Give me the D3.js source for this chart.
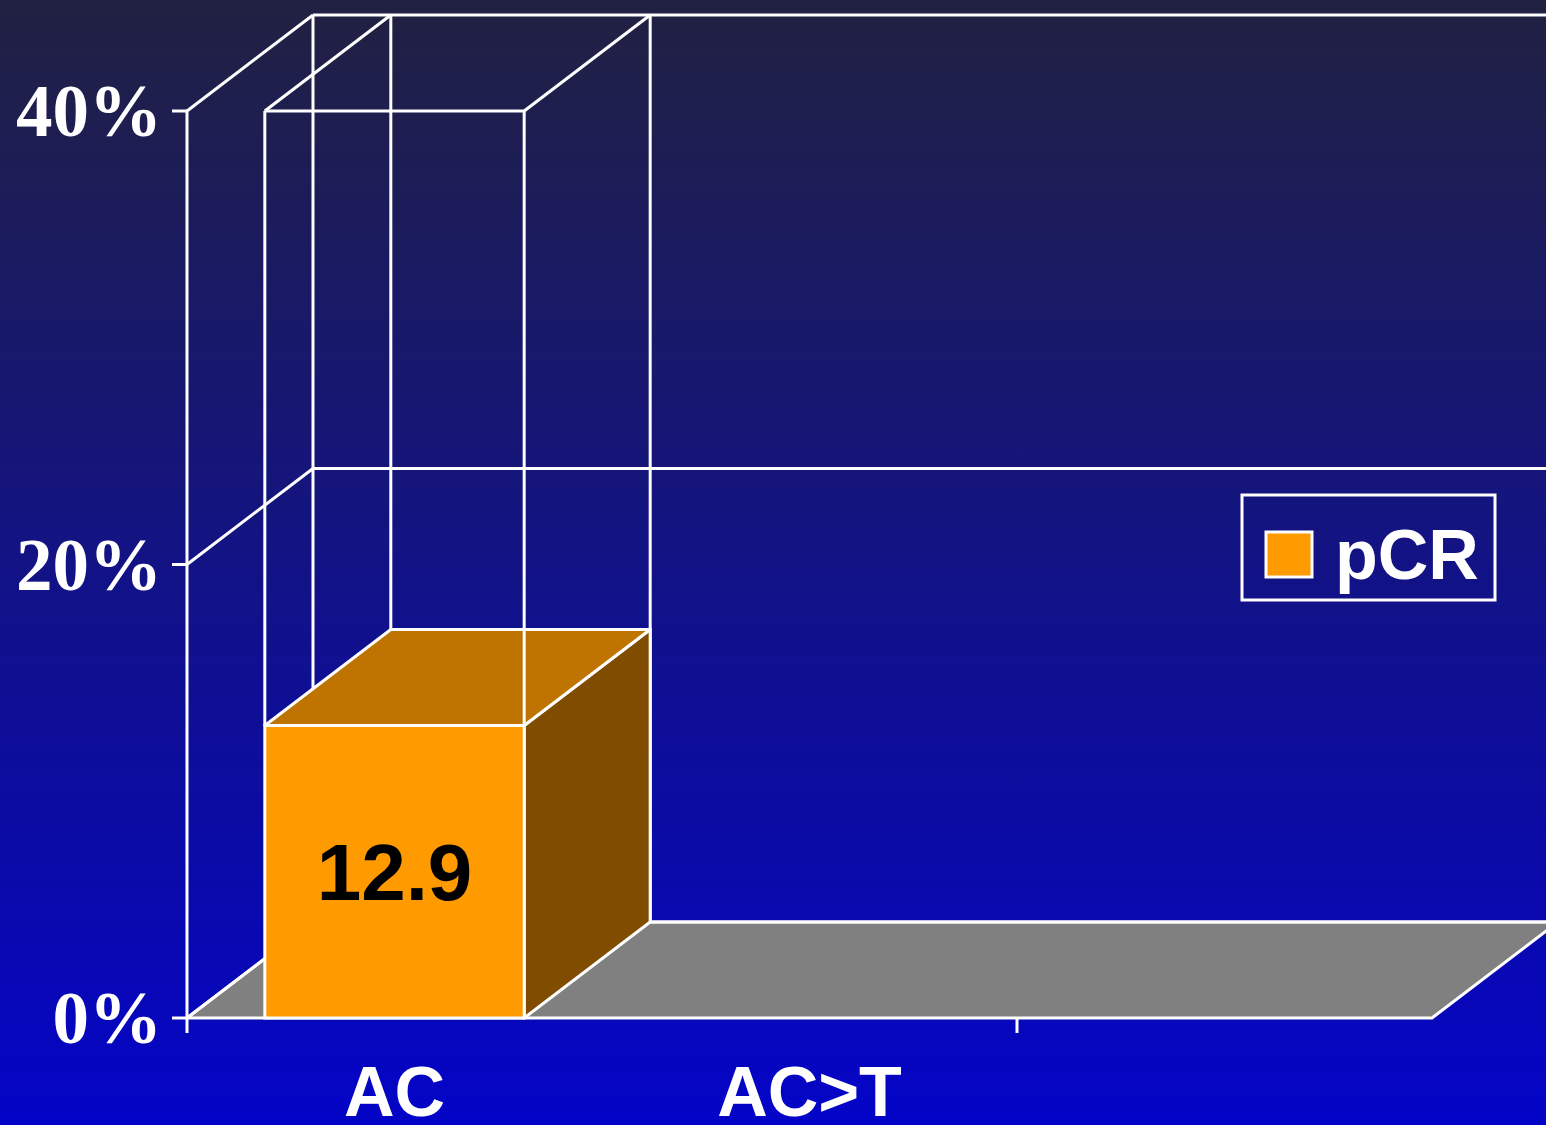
<!DOCTYPE html>
<html>
<head>
<meta charset="utf-8">
<script src="https://cdn.jsdelivr.net/npm/d3@7"></script>
<style>
  html, body { margin: 0; padding: 0; overflow: hidden; }
  svg { display: block; }
</style>
</head>
<body>
<svg width="1546" height="1125" viewBox="0 0 1546 1125"></svg>
<script>
// data
const categories = ["AC", "AC>T", ""];
const pcrValues = [12.9, null, null];
const seriesName = "pCR";
const yTicks = [0, 20, 40];

let svg = d3.select('svg');

// gradient background
let defs = svg.append('defs');
let grad = defs.append('linearGradient').attr('id', 'bg')
  .attr('x1', 0).attr('y1', 0).attr('x2', 0).attr('y2', 1);
grad.append('stop').attr('offset', '0%').attr('stop-color', '#212142');
grad.append('stop').attr('offset', '100%').attr('stop-color', '#0404c8');
svg.append('rect').attr('width', 1546).attr('height', 1125).attr('fill', 'url(#bg)');

// scales
let xScale = d3.scaleBand().domain(categories).range([187, 1432]).padding(0);
let yScale = d3.scaleLinear().domain([0, 40]).range([1018, 111]);
// 3d depth offset
const dx = 126, dy = -96;
const barFrac = 0.625;

const x0 = xScale.range()[0], x1 = xScale.range()[1];
const yBase = yScale(0), yTop = yScale(40);
const white = '#ffffff', lw = 3;

function line(g, a, b, c, d) {
  g.append('line').attr('x1', a).attr('y1', b).attr('x2', c).attr('y2', d)
    .attr('stroke', white).attr('stroke-width', lw);
}

// floor
let grid = svg.append('g');
grid.append('polygon')
  .attr('points', [[x0, yBase], [x1, yBase], [x1 + dx, yBase + dy], [x0 + dx, yBase + dy]].join(' '))
  .attr('fill', '#808080').attr('stroke', white).attr('stroke-width', lw)
  .attr('stroke-linejoin', 'round');

// back wall + left wall gridlines
yTicks.forEach(function (t) {
  let y = yScale(t);
  line(grid, x0 + dx, y + dy, x1 + dx, y + dy);
  line(grid, x0, y, x0 + dx, y + dy);
});
line(grid, x0 + dx, yTop + dy, x0 + dx, yBase + dy);
line(grid, x0, yTop, x0, yBase);

// y ticks and labels
yTicks.forEach(function (t) {
  let y = yScale(t);
  line(grid, x0 - 15, y, x0, y);
  grid.append('text').attr('x', 162).attr('y', y + 25)
    .attr('text-anchor', 'end')
    .attr('font-family', '"Liberation Serif", "Times New Roman", serif')
    .attr('font-weight', 'bold').attr('font-size', 73).attr('fill', white)
    .text(t + '%');
});

// x ticks (every second band)
categories.forEach(function (c, i) {
  if (i % 2 === 0) line(grid, xScale(c), yBase, xScale(c), yBase + 15);
});

// bars
let bars = svg.append('g');
categories.forEach(function (c, i) {
  let v = pcrValues[i];
  if (v === null) return;
  let bw = xScale.bandwidth() * barFrac;
  let bl = xScale(c) + (xScale.bandwidth() - bw) / 2;
  let br = bl + bw;
  let yv = yScale(v);

  // wireframe behind the bar (up to axis max)
  line(bars, bl + dx, yTop + dy, bl + dx, yv + dy);
  line(bars, br + dx, yTop + dy, br + dx, yBase + dy);
  line(bars, bl, yTop, bl + dx, yTop + dy);
  line(bars, br, yTop, br + dx, yTop + dy);
  line(bars, bl, yTop, br, yTop);

  // side face
  bars.append('polygon')
    .attr('points', [[br, yv], [br + dx, yv + dy], [br + dx, yBase + dy], [br, yBase]].join(' '))
    .attr('fill', '#7f4c00').attr('stroke', white).attr('stroke-width', lw)
    .attr('stroke-linejoin', 'round');
  // top face
  bars.append('polygon')
    .attr('points', [[bl, yv], [bl + dx, yv + dy], [br + dx, yv + dy], [br, yv]].join(' '))
    .attr('fill', '#bf7300').attr('stroke', white).attr('stroke-width', lw)
    .attr('stroke-linejoin', 'round');
  // front face
  bars.append('rect').attr('x', bl).attr('y', yv).attr('width', bw).attr('height', yBase - yv)
    .attr('fill', '#ff9a00').attr('stroke', white).attr('stroke-width', lw);

  // front wireframe edges
  line(bars, bl, yTop, bl, yv);
  line(bars, br, yTop, br, yv);

  // value label
  bars.append('text').attr('x', bl + bw / 2).attr('y', 900)
    .attr('text-anchor', 'middle')
    .attr('font-family', '"Liberation Sans", Arial, sans-serif')
    .attr('font-weight', 'bold').attr('font-size', 80).attr('fill', '#000')
    .text(v.toFixed(1));
});

// category labels
categories.forEach(function (c) {
  svg.append('text').attr('x', xScale(c) + xScale.bandwidth() / 2).attr('y', 1116)
    .attr('text-anchor', 'middle')
    .attr('font-family', '"Liberation Sans", Arial, sans-serif')
    .attr('font-weight', 'bold').attr('font-size', 70).attr('fill', white)
    .text(c);
});

// legend
let leg = svg.append('g');
leg.append('rect').attr('x', 1242).attr('y', 495).attr('width', 253).attr('height', 105)
  .attr('fill', 'none').attr('stroke', white).attr('stroke-width', lw);
leg.append('rect').attr('x', 1266).attr('y', 532).attr('width', 46).attr('height', 45)
  .attr('fill', '#ff9a00').attr('stroke', white).attr('stroke-width', lw);
leg.append('text').attr('x', 1335).attr('y', 579)
  .attr('font-family', '"Liberation Sans", Arial, sans-serif')
  .attr('font-weight', 'bold').attr('font-size', 70).attr('fill', white)
  .text(seriesName);
</script>
</body>
</html>
